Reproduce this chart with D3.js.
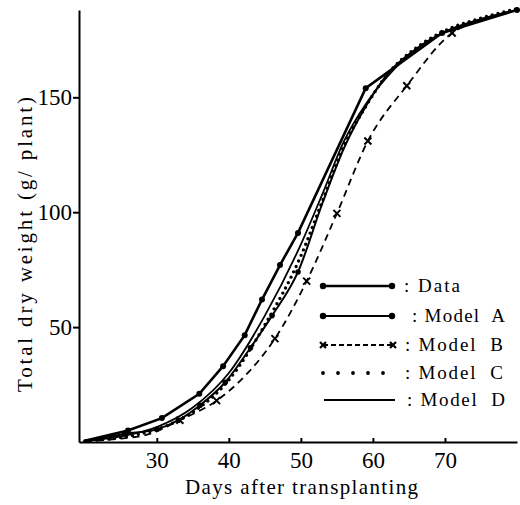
<!DOCTYPE html>
<html lang="en">
<head>
<meta charset="UTF-8">
<title>Total dry weight vs days after transplanting</title>
<script src="https://d3js.org/d3.v7.min.js"></script>
<style>
  body { margin: 0; background: #fff; }
  svg text { font-family: "Liberation Serif", "DejaVu Serif", serif; fill: #000; }
  .axis path, .axis line { stroke: #000; stroke-width: 2; fill: none; }
  .axis text { font-size: 23px; }
  .curve { fill: none; stroke: #000; }
  .legend text { font-size: 19px; }
</style>
</head>
<body>
<script>
  // values: [days after transplanting, g/plant]
  var data = [[20, 0.5], [26, 5], [30.7, 10.4], [35.9, 21], [39.2, 33], [42.2, 46.5],
              [44.6, 62], [47.1, 77], [49.6, 91], [59, 154], [69.6, 178], [80, 188]];
  var modelA = [[20, 0.5], [25.5, 3.5], [30, 5.5], [33, 9.5], [36, 16], [39.5, 26], [43, 41],
                [46, 55], [49.6, 74], [53, 104], [56, 128], [59, 146], [62, 160], [66, 171],
                [70, 178.5], [75, 184], [80, 188]];
  var modelAMarks = [[25.5, 3.5], [30, 5.5], [33, 9.5], [36, 16], [39.5, 26], [43, 41],
                     [46, 55], [49.6, 74]];
  var modelB = [[20, 0.3], [25, 1.5], [29, 3.5], [33.2, 9.5], [38.3, 18], [42, 28], [46.4, 45],
                [50.8, 70], [55, 99.5], [59.3, 131], [64.7, 155], [71, 178], [75, 183.5], [80, 188]];
  var modelBMarks = [[33.2, 9.5], [38.3, 18], [46.4, 45], [50.8, 70], [55, 99.5],
                     [59.3, 131], [64.7, 155], [71, 178]];
  var modelC = [[20, 0.5], [25, 2], [30, 5.5], [35, 13], [40, 27], [45, 51], [50, 81], [53, 105],
                [56, 129], [59, 146], [62, 160], [66, 171.5], [70, 179], [75, 184.5], [80, 188.5]];
  var modelD = [[20, 0.5], [25, 2.5], [30, 6.5], [35, 15], [40, 30], [45, 55], [50, 86], [53, 108],
                [56, 131], [59, 147], [62, 159], [66, 171], [70, 178.5], [75, 184], [80, 188]];

  var xTicks = [30, 40, 50, 60, 70];
  var yTicks = [50, 100, 150];
  var legendLabels = [": Data", ": Model  A", ": Model  B", ": Model  C", ": Model  D"];

  var svg = d3.select("body").append("svg")
      .attr("width", 520)
      .attr("height", 505);

  var x = d3.scaleLinear().domain([19.2, 80]).range([79, 517]);
  var y = d3.scaleLinear().domain([0, 188]).range([442, 10]);

  // axes
  var xAxis = svg.append("g")
      .attr("class", "axis")
      .attr("transform", "translate(0,442)")
      .call(d3.axisBottom(x).tickValues(xTicks).tickSizeInner(-4).tickSizeOuter(0).tickPadding(0));
  xAxis.selectAll("text").attr("dy", null).attr("y", 26);

  svg.append("g")
      .attr("class", "axis")
      .attr("transform", "translate(79,0)")
      .call(d3.axisLeft(y).tickValues(yTicks).tickSize(6).tickSizeOuter(0).tickPadding(1));

  svg.append("text")
      .attr("transform", "translate(32,392) rotate(-90)")
      .attr("textLength", 295)
      .attr("lengthAdjust", "spacing")
      .style("font-size", "21px")
      .text("Total dry weight (g/ plant)");

  svg.append("text")
      .attr("x", 185)
      .attr("y", 494)
      .attr("textLength", 233)
      .attr("lengthAdjust", "spacing")
      .style("font-size", "21px")
      .text("Days after transplanting");

  var smooth = d3.line().x(d => x(d[0])).y(d => y(d[1])).curve(d3.curveMonotoneX);
  var straight = d3.line().x(d => x(d[0])).y(d => y(d[1]));

  // Model B dashed
  svg.append("path").datum(modelB).attr("class", "curve")
      .attr("stroke-width", 1.8).attr("stroke-dasharray", "7,5").attr("d", smooth);

  function cross(cx, cy, r) {
    return "M" + (cx - r) + "," + (cy - r) + "L" + (cx + r) + "," + (cy + r) +
           "M" + (cx - r) + "," + (cy + r) + "L" + (cx + r) + "," + (cy - r);
  }
  svg.append("g").selectAll("path").data(modelBMarks).join("path")
      .attr("class", "curve").attr("stroke-width", 2)
      .attr("d", d => cross(x(d[0]), y(d[1]), 3.5));

  // Model A solid with dots
  svg.append("path").datum(modelA).attr("class", "curve")
      .attr("stroke-width", 2).attr("d", smooth);
  svg.append("g").selectAll("circle").data(modelAMarks).join("circle")
      .attr("cx", d => x(d[0])).attr("cy", d => y(d[1])).attr("r", 2.8);

  // Model C dotted
  svg.append("path").datum(modelC).attr("class", "curve")
      .attr("stroke-width", 3.4).attr("stroke-linecap", "round")
      .attr("stroke-dasharray", "0,6").attr("d", smooth);

  // Model D plain
  svg.append("path").datum(modelD).attr("class", "curve")
      .attr("stroke-width", 1.8).attr("d", smooth);

  // Data
  svg.append("path").datum(data).attr("class", "curve")
      .attr("stroke-width", 2.6).attr("d", straight);
  svg.append("g").selectAll("circle").data(data.slice(1)).join("circle")
      .attr("cx", d => x(d[0])).attr("cy", d => y(d[1])).attr("r", 3);

  // legend
  var lg = svg.append("g").attr("class", "legend");
  var rowY = [286, 316, 345, 373, 400];
  var textX = [404, 412, 405, 405, 407];
  var textW = [56, 93, 98, 98, 98];
  var x0 = 323, x1 = 392;

  // Data, Model A
  [0, 1].forEach(i => {
    lg.append("line").attr("x1", x0).attr("x2", x1).attr("y1", rowY[i]).attr("y2", rowY[i])
        .attr("stroke", "#000").attr("stroke-width", i === 0 ? 2.4 : 2);
    lg.selectAll(null).data([x0, x1]).join("circle")
        .attr("cx", d => d).attr("cy", rowY[i]).attr("r", 3.2);
  });
  // Model B
  lg.append("line").attr("x1", x0).attr("x2", x1 + 1).attr("y1", rowY[2]).attr("y2", rowY[2])
      .attr("stroke", "#000").attr("stroke-width", 1.8).attr("stroke-dasharray", "5,3");
  [x0, x1 + 1].forEach(cx => {
    lg.append("path").attr("stroke", "#000").attr("stroke-width", 2.2)
        .attr("d", cross(cx, rowY[2], 3));
  });
  // Model C
  lg.append("line").attr("x1", x0).attr("x2", x0 + 75).attr("y1", rowY[3]).attr("y2", rowY[3])
      .attr("stroke", "#000").attr("stroke-width", 3.8).attr("stroke-linecap", "round")
      .attr("stroke-dasharray", "0,15");
  // Model D
  lg.append("line").attr("x1", x0 + 1).attr("x2", x1 + 3).attr("y1", rowY[4]).attr("y2", rowY[4])
      .attr("stroke", "#000").attr("stroke-width", 1.8);

  lg.selectAll("text").data(legendLabels).join("text")
      .attr("x", (d, i) => textX[i]).attr("y", (d, i) => rowY[i] + 6)
      .attr("textLength", (d, i) => textW[i])
      .attr("lengthAdjust", "spacing")
      .attr("xml:space", "preserve")
      .text(d => d);
</script>
</body>
</html>
